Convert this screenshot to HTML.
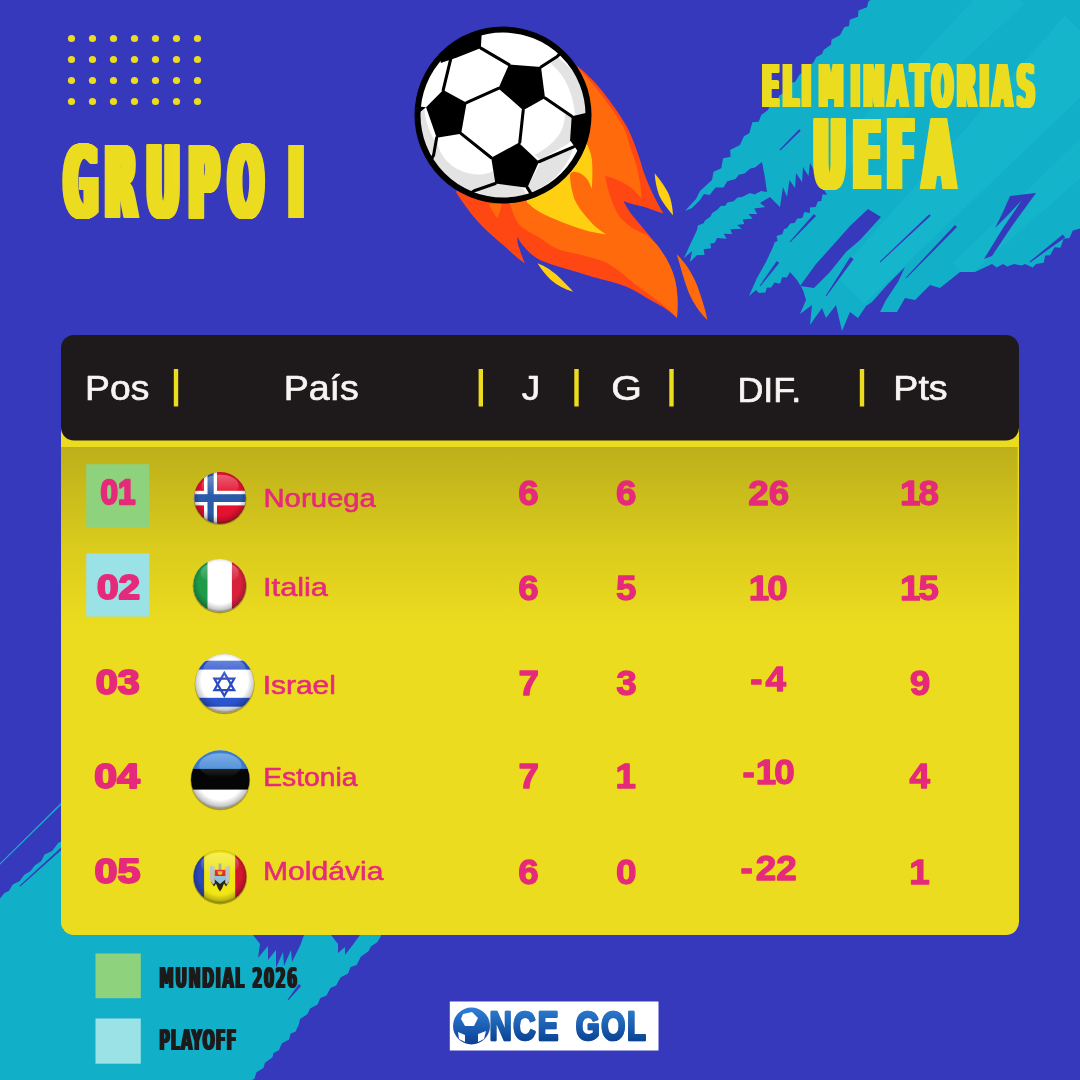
<!DOCTYPE html>
<html lang="es"><head><meta charset="utf-8"><title>Grupo I - Eliminatorias UEFA</title>
<style>html,body{margin:0;padding:0;background:#3739bd;}body{width:1080px;height:1080px;overflow:hidden;}svg{display:block}text{white-space:pre}</style>
</head><body>
<svg width="1080" height="1080" viewBox="0 0 1080 1080">
<defs>
<linearGradient id="cardg" x1="0" y1="0" x2="0" y2="1"><stop offset="0" stop-color="#5f5810" stop-opacity="0.34"/><stop offset="0.55" stop-color="#5f5810" stop-opacity="0.13"/><stop offset="1" stop-color="#5f5810" stop-opacity="0"/></linearGradient>
<linearGradient id="lg" x1="0" y1="0" x2="0" y2="1"><stop offset="0" stop-color="#2f7fd6"/><stop offset="1" stop-color="#0b3f94"/></linearGradient>
<linearGradient id="lg2" gradientUnits="userSpaceOnUse" x1="0" y1="-70" x2="0" y2="0"><stop offset="0" stop-color="#2a78cc"/><stop offset="1" stop-color="#0c4596"/></linearGradient>
<radialGradient id="fshade" cx="0.5" cy="0.45" r="0.55"><stop offset="0.72" stop-color="#000" stop-opacity="0"/><stop offset="0.92" stop-color="#000" stop-opacity="0.22"/><stop offset="1" stop-color="#000" stop-opacity="0.5"/></radialGradient>
<linearGradient id="fgloss" x1="0" y1="0" x2="0" y2="1"><stop offset="0" stop-color="#fff" stop-opacity="0.32"/><stop offset="1" stop-color="#fff" stop-opacity="0"/></linearGradient>
</defs>
<rect width="1080" height="1080" fill="#3739bd"/>
<clipPath id="cyclip"><polygon fill="#12b0c8" points="876.0,-2.0 876.0,-2.0 868.6,0.9 867.0,7.3 858.5,10.6 858.0,16.7 849.8,19.7 849.0,26.0 844.2,27.2 840.0,35.3 831.6,39.6 831.0,44.7 823.8,49.7 822.0,54.0 816.1,57.2 813.0,63.3 806.2,66.3 804.0,72.7 799.8,74.2 795.0,82.0 788.5,83.3 786.0,91.3 779.2,95.8 777.0,100.7 770.1,105.3 768.0,110.0 761.3,115.0 758.7,121.7 752.4,122.2 749.3,133.3 743.9,136.2 740.0,145.0 730.1,150.1 730.7,156.7 723.1,158.3 721.3,168.3 713.6,171.7 712.0,180.0 700.0,191.0 696.0,199.0 685.0,211.0 692.0,208.0 700.0,200.0 704.0,194.0 709.6,195.0 715.6,187.6 723.5,187.4 727.2,181.2 735.5,179.0 738.8,174.8 744.5,173.6 750.4,168.4 755.0,167.5 762.0,162.0 765.0,178.0 767.0,192.0 767.0,192.0 761.1,191.0 754.5,194.5 750.0,193.1 742.0,197.0 737.5,197.6 733.7,201.3 727.4,202.5 725.3,205.7 720.8,205.9 717.0,210.0 712.3,213.1 710.3,216.7 705.0,220.5 703.7,223.3 697.8,225.4 697.0,230.0 690.0,245.0 684.0,258.0 692.0,251.0 690.0,262.0 697.0,255.0 697.0,255.0 704.5,255.1 703.7,249.3 711.2,248.3 710.3,243.7 714.8,242.7 717.0,238.0 726.5,238.7 723.7,233.7 732.2,234.0 730.3,229.3 741.7,228.7 737.0,225.0 744.2,223.9 742.8,219.5 752.6,218.6 748.5,214.0 757.2,214.0 754.2,208.5 765.2,207.1 760.0,203.0 770.0,197.0 780.0,207.0 783.0,187.0 787.0,197.0 789.5,180.0 795.0,188.0 796.0,173.0 802.0,182.0 803.0,167.0 808.5,176.0 810.0,163.0 815.0,172.0 817.0,164.0 822.0,186.0 827.0,195.0 827.0,195.0 822.5,194.2 821.3,201.0 817.8,201.4 815.7,207.0 809.9,207.6 810.0,213.0 804.4,212.1 802.3,218.0 797.0,218.8 794.7,223.0 790.3,223.6 787.0,228.0 784.0,229.2 782.3,234.3 776.5,236.0 777.7,240.7 774.7,242.2 773.0,247.0 766.0,262.0 757.0,278.0 749.0,296.0 756.0,290.0 759.0,293.0 759.0,293.0 765.4,292.5 766.8,287.8 771.1,287.6 774.5,282.5 780.0,283.7 782.2,277.2 786.9,277.5 790.0,272.0 797.0,280.0 803.0,290.0 806.0,300.0 800.0,314.0 812.0,305.0 810.0,325.0 822.0,308.0 826.0,318.0 836.0,305.0 842.0,331.0 850.0,312.0 858.0,318.0 866.0,306.0 872.0,302.0 888.0,284.0 905.0,267.0 898.0,282.0 886.0,300.0 880.0,312.0 897.0,312.0 905.0,298.0 915.0,300.0 930.0,285.0 940.0,288.0 960.0,272.0 975.0,272.0 992.0,264.0 992.0,264.0 996.7,267.4 1003.0,264.0 1007.2,266.4 1014.0,264.0 1021.5,265.6 1025.0,264.0 1032.7,267.5 1036.0,264.0 1043.7,262.8 1045.2,255.6 1050.2,255.3 1054.4,247.2 1060.4,247.8 1063.6,238.8 1069.4,237.9 1072.8,230.4 1081.9,228.1 1082.0,222.0 1082.0,-2.0"/></clipPath>
<polygon fill="#12b0c8" points="876.0,-2.0 876.0,-2.0 868.6,0.9 867.0,7.3 858.5,10.6 858.0,16.7 849.8,19.7 849.0,26.0 844.2,27.2 840.0,35.3 831.6,39.6 831.0,44.7 823.8,49.7 822.0,54.0 816.1,57.2 813.0,63.3 806.2,66.3 804.0,72.7 799.8,74.2 795.0,82.0 788.5,83.3 786.0,91.3 779.2,95.8 777.0,100.7 770.1,105.3 768.0,110.0 761.3,115.0 758.7,121.7 752.4,122.2 749.3,133.3 743.9,136.2 740.0,145.0 730.1,150.1 730.7,156.7 723.1,158.3 721.3,168.3 713.6,171.7 712.0,180.0 700.0,191.0 696.0,199.0 685.0,211.0 692.0,208.0 700.0,200.0 704.0,194.0 709.6,195.0 715.6,187.6 723.5,187.4 727.2,181.2 735.5,179.0 738.8,174.8 744.5,173.6 750.4,168.4 755.0,167.5 762.0,162.0 765.0,178.0 767.0,192.0 767.0,192.0 761.1,191.0 754.5,194.5 750.0,193.1 742.0,197.0 737.5,197.6 733.7,201.3 727.4,202.5 725.3,205.7 720.8,205.9 717.0,210.0 712.3,213.1 710.3,216.7 705.0,220.5 703.7,223.3 697.8,225.4 697.0,230.0 690.0,245.0 684.0,258.0 692.0,251.0 690.0,262.0 697.0,255.0 697.0,255.0 704.5,255.1 703.7,249.3 711.2,248.3 710.3,243.7 714.8,242.7 717.0,238.0 726.5,238.7 723.7,233.7 732.2,234.0 730.3,229.3 741.7,228.7 737.0,225.0 744.2,223.9 742.8,219.5 752.6,218.6 748.5,214.0 757.2,214.0 754.2,208.5 765.2,207.1 760.0,203.0 770.0,197.0 780.0,207.0 783.0,187.0 787.0,197.0 789.5,180.0 795.0,188.0 796.0,173.0 802.0,182.0 803.0,167.0 808.5,176.0 810.0,163.0 815.0,172.0 817.0,164.0 822.0,186.0 827.0,195.0 827.0,195.0 822.5,194.2 821.3,201.0 817.8,201.4 815.7,207.0 809.9,207.6 810.0,213.0 804.4,212.1 802.3,218.0 797.0,218.8 794.7,223.0 790.3,223.6 787.0,228.0 784.0,229.2 782.3,234.3 776.5,236.0 777.7,240.7 774.7,242.2 773.0,247.0 766.0,262.0 757.0,278.0 749.0,296.0 756.0,290.0 759.0,293.0 759.0,293.0 765.4,292.5 766.8,287.8 771.1,287.6 774.5,282.5 780.0,283.7 782.2,277.2 786.9,277.5 790.0,272.0 797.0,280.0 803.0,290.0 806.0,300.0 800.0,314.0 812.0,305.0 810.0,325.0 822.0,308.0 826.0,318.0 836.0,305.0 842.0,331.0 850.0,312.0 858.0,318.0 866.0,306.0 872.0,302.0 888.0,284.0 905.0,267.0 898.0,282.0 886.0,300.0 880.0,312.0 897.0,312.0 905.0,298.0 915.0,300.0 930.0,285.0 940.0,288.0 960.0,272.0 975.0,272.0 992.0,264.0 992.0,264.0 996.7,267.4 1003.0,264.0 1007.2,266.4 1014.0,264.0 1021.5,265.6 1025.0,264.0 1032.7,267.5 1036.0,264.0 1043.7,262.8 1045.2,255.6 1050.2,255.3 1054.4,247.2 1060.4,247.8 1063.6,238.8 1069.4,237.9 1072.8,230.4 1081.9,228.1 1082.0,222.0 1082.0,-2.0"/>
<g clip-path="url(#cyclip)">
<polygon fill="#1cc0d2" opacity="0.35" points="1064.8,15.8 835.6,276.1 864.4,303.9 1115.2,64.2"/>
<polygon fill="#1cc0d2" opacity="0.3" points="995.9,-24.1 792.9,192.9 807.1,207.1 1024.1,4.1"/>
<polygon fill="#1cc0d2" opacity="0.3" points="1079.8,139.0 953.2,262.7 966.8,277.3 1100.2,161.0"/>
</g>
<polygon fill="#3739bd" points="868.0,209.0 881.0,217.0 860.0,240.0 846.0,252.0 830.0,272.0 814.0,288.0 800.0,286.0 816.0,264.0 834.0,244.0 850.0,226.0"/>
<polygon fill="#3739bd" points="1010.0,196.0 1036.0,193.0 1012.0,226.0 992.0,256.0 984.0,259.0 1003.0,228.0 1022.0,200.0 1008.0,215.0 995.0,228.0 1003.0,212.0"/>
<polygon fill="#3739bd" points="954.9,225.0 905.6,277.7 906.4,278.3 957.1,227.0"/>
<polygon fill="#3739bd" points="929.3,214.3 879.7,261.6 880.3,262.4 930.7,215.7"/>
<polygon fill="#3739bd" points="1062.8,234.4 1029.7,261.6 1030.3,262.4 1065.2,237.6"/>
<polygon fill="#3739bd" points="850.3,256.9 825.6,295.7 826.4,296.3 853.7,259.1"/>
<polygon fill="#3739bd" points="776.8,261.1 759.6,285.7 760.4,286.3 779.2,262.9"/>
<polygon fill="#3739bd" points="813.9,214.0 789.6,241.7 790.4,242.3 816.1,216.0"/>
<polygon fill="#3739bd" points="799.3,129.3 779.6,149.6 780.4,150.4 800.7,130.7"/>
<polygon fill="#12b0c8" points="-2.0,901.0 -2.0,901.0 4.4,892.9 8.8,891.0 12.8,884.5 19.7,881.0 24.1,875.1 30.5,871.0 34.8,865.6 41.3,861.0 44.6,854.6 52.2,851.0 58.3,842.7 63.0,841.0 63.0,930.0 381.0,930.0 381.0,936.0 381.0,936.0 377.2,942.3 370.9,946.4 368.7,950.9 360.8,956.8 356.6,964.9 350.6,967.1 348.1,973.4 340.5,977.5 336.1,985.4 330.4,987.9 326.5,995.4 320.2,998.2 317.6,1004.5 310.1,1008.6 307.4,1014.2 300.0,1019.0 299.0,1024.0 299.0,1024.0 295.6,1031.5 290.5,1033.7 289.1,1039.6 282.0,1043.3 278.9,1050.2 273.5,1053.0 272.5,1057.3 265.0,1062.7 263.4,1068.1 256.5,1072.3 254.4,1078.8 248.0,1082.0 -2.0,1082.0"/>
<polygon fill="#12b0c8" points="61.4,802.4 -2.4,865.6 -1.6,866.4 62.6,803.6"/>
<polygon fill="#3739bd" points="61.3,847.3 19.7,885.6 20.3,886.4 62.7,848.7"/>
<polygon fill="#3739bd" points="253.0,935.0 304.0,935.0 300.0,946.0 292.0,962.0 291.0,950.0 284.0,966.0 283.0,952.0 276.0,968.0 276.0,950.0 268.0,960.0 268.0,946.0 258.0,958.0 260.0,944.0"/>
<polygon fill="#3739bd" points="331.0,935.0 360.0,935.0 352.0,946.0 345.0,955.0 345.0,947.0 338.0,953.0 338.0,944.0"/>
<polygon fill="#3739bd" points="298.8,984.1 287.6,999.7 288.4,1000.3 301.2,985.9"/>
<g fill="#ecdc1f"><circle cx="71.5" cy="38.5" r="3.6"/><circle cx="92.5" cy="38.5" r="3.6"/><circle cx="113.5" cy="38.5" r="3.6"/><circle cx="134.5" cy="38.5" r="3.6"/><circle cx="155.5" cy="38.5" r="3.6"/><circle cx="176.5" cy="38.5" r="3.6"/><circle cx="197.5" cy="38.5" r="3.6"/><circle cx="71.5" cy="59.5" r="3.6"/><circle cx="92.5" cy="59.5" r="3.6"/><circle cx="113.5" cy="59.5" r="3.6"/><circle cx="134.5" cy="59.5" r="3.6"/><circle cx="155.5" cy="59.5" r="3.6"/><circle cx="176.5" cy="59.5" r="3.6"/><circle cx="197.5" cy="59.5" r="3.6"/><circle cx="71.5" cy="80.5" r="3.6"/><circle cx="92.5" cy="80.5" r="3.6"/><circle cx="113.5" cy="80.5" r="3.6"/><circle cx="134.5" cy="80.5" r="3.6"/><circle cx="155.5" cy="80.5" r="3.6"/><circle cx="176.5" cy="80.5" r="3.6"/><circle cx="197.5" cy="80.5" r="3.6"/><circle cx="71.5" cy="101.5" r="3.6"/><circle cx="92.5" cy="101.5" r="3.6"/><circle cx="113.5" cy="101.5" r="3.6"/><circle cx="134.5" cy="101.5" r="3.6"/><circle cx="155.5" cy="101.5" r="3.6"/><circle cx="176.5" cy="101.5" r="3.6"/><circle cx="197.5" cy="101.5" r="3.6"/></g>
<path fill="#ff4713" d="M560,50 L576,65 C584,71 596,83 603,92 C610,101 621,116 627,127 C632,136 640,158 643,170
 C647,182 656,202 663.5,213.5 C655,211 647,207.5 643,206.5 C636,205 628,203 623.5,201 C626,206 629,211 632,215 C636,220 650,236 657,245
 C662,251 672,266 675,280 C678,292 678,306 677,318 C671,312 662,306 653,301.5 C645,297 636,291 627,287 C615,282 604,280 593,277
 C583,274 574,271 565,268.5 C556,266 547,263 540,260 C534,257 530,253 527,250 C523,246 519,241 517.5,236.5 C517,241 518,246 520,250
 C521,254 523,259 525,263.5 C517,258 510,251 503,245 C496,239 489,233 483,227 C477,221 471,214 467,208 C463,203 459,197 456,192 L480,150 Z"/>
<path fill="#ff6a0c" d="M565,55 L578.3,68.3 C590,80 602,95 610,106.7 C616,115 620,121 623.3,126.7 C626,132 628,139 630,146.7
 C632,153 635,160 636.7,166.7 C638,172 639,177 640,183 C641,188 641,193 641.7,198.3 C638,195 635,191 631.7,188.3 C624,182 613,178 605,175.8
 C607,188 612,204 618.3,215 C625,224 636,231 646.7,235 C650,238 654,242 657,245 C662,251 672,266 675,280 C678,292 678,306 677,318
 C673,313 668,309 663,305 C657,300 650,295 643,290 C632,283 620,270 607,263 C596,258 584,256 573,253 C568,252 564,251 560,250
 C552,247 546,242 540,238 C532,233 522,229 518,223 C514,217 512,210 510,204 L520,150 Z"/>
<path fill="#ff6a0c" d="M489,204 L502,204 C501,209 499,214 497.5,218.5 C494,214 491,209 489,204 Z"/>
<path fill="#ffd012" d="M560,120 L587.8,145.6 C590,151 592,157 592.2,163.3 C592.5,172 592.5,181 591.7,188.9 C590.5,186 589.5,183 587.8,180
 C586,177.5 584.5,176 582.2,174.4 C579,172.5 576,171.5 573.3,171.7 C572,172 571,173 570,174.4 C570,178 570.3,182 571,185.6
 C571.8,190 573,195 574.4,198.9 C577,204.5 580.5,210 584.4,214.4 C588,218.5 591.5,223 595.6,226.7 C599,229.5 602.5,232 606.1,234.4
 C598.5,233.5 591,232 584.4,230 C577,227.8 569,225 562.2,222.2 C554.5,219 547,216 540,212.2 C535,209.5 531,206 527,202.5 L520,150 Z"/>
<path fill="#ffd012" d="M654.7,173.3 C660,180 668,190 670.5,199 C672,205 672.8,210 673,215.3 C668,209 662,202 659,195 C656.5,188 655,180 654.7,173.3 Z"/>
<path fill="#ffd012" d="M537.5,263.3 C545,266 554,272 560,278 C565,283 569.5,287.5 573.3,291.7 C565,289.5 557,285.5 551,280 C545.5,275 541,269 537.5,263.3 Z"/>
<path fill="#ff6a0c" d="M676.7,254.2 C685,262 692,273 697,285 C701,296 705,308 707.5,320 C700,313 693,303 688.5,292 C684,280 680.5,267 676.7,254.2 Z"/>
<clipPath id="ballclip"><circle cx="503" cy="115" r="85.5"/></clipPath>
<circle cx="503" cy="115" r="85.5" fill="#fff"/>
<g clip-path="url(#ballclip)"><g transform="translate(400,10) scale(0.2037)">
<g fill="#dcdcdc">
<path d="M700,290 L770,235 Q900,330 925,510 L845,520 Q820,380 700,290 Z" opacity="0"/>
</g>

<g fill="#e3e3e3">
<!-- right panel shading -->
<path d="M775,235 C870,300 915,400 925,505 L860,515 C850,420 820,330 740,262 Z"/>
<!-- center-right panel shading -->
<path d="M845,530 C850,580 845,630 835,650 L690,735 L660,712 C760,660 810,600 810,505 Z"/>
<!-- bottom-left panel shading -->
<path d="M180,630 C188,715 255,800 380,808 C410,808 440,800 458,790 L468,852 L365,887 L330,915 L200,905 L120,770 L165,712 Z"/>
<!-- bottom-right panel shading -->
<path d="M850,680 C820,780 740,860 640,895 L625,870 L690,750 Z"/>
<!-- bottom small panel -->
<path d="M370,890 C450,930 540,935 620,905 L600,870 L470,850 Z"/>
<!-- left small panel shading -->
<path d="M100,490 C95,580 115,650 160,715 L170,640 C140,590 125,540 120,490 Z"/>
</g>
<g fill="#000">
<path d="M535,268 L692,280 L712,432 L605,492 L483,385 Z"/>
<path d="M212,393 L327,455 L300,607 L180,627 L128,478 Z"/>
<path d="M583,652 L682,745 L625,872 L468,852 L448,725 Z"/>
<path d="M843,522 L960,495 L960,700 L872,692 L835,640 Z"/>
<path d="M283,232 L397,187 L402,100 L200,100 L200,260 Z"/>
<path d="M60,470 L128,478 L100,500 L60,500 Z"/>
</g>
<g fill="none" stroke="#000" stroke-width="15" stroke-linecap="round" stroke-linejoin="round">
<path d="M535,268 L397,187"/>
<path d="M692,280 L772,228 L800,200"/>
<path d="M712,432 L843,522"/>
<path d="M605,492 L588,650"/>
<path d="M483,385 L327,455"/>
<path d="M300,607 L448,725"/>
<path d="M180,627 L165,712 L140,760"/>
<path d="M212,393 L255,215"/>
<path d="M682,745 L852,672"/>
<path d="M625,872 L655,920"/>
<path d="M468,852 L365,887 L330,910"/>
</g>

</g></g>
<circle cx="503" cy="115" r="85.5" fill="none" stroke="#000" stroke-width="6"/>
<g style="filter:drop-shadow(1px 0 0 #ecdc1f) drop-shadow(1px 0 0 #ecdc1f) drop-shadow(1px 0 0 #ecdc1f) drop-shadow(1px 0 0 #ecdc1f) drop-shadow(1px 0 0 #ecdc1f) drop-shadow(1px 0 0 #ecdc1f) drop-shadow(1px 0 0 #ecdc1f) drop-shadow(1px 0 0 #ecdc1f)"><text transform="translate(0,217.70) scale(0.4531,0.9959)" x="133.2 223.1 314.6 407.8 495.5 545.5 628.1" font-family="DejaVu Sans Condensed, sans-serif" font-weight="bold" font-size="100" fill="#ecdc1f">GRUPO I</text></g>
<g style="filter:drop-shadow(1px 0 0 #ecdc1f) drop-shadow(1px 0 0 #ecdc1f) drop-shadow(1px 0 0 #ecdc1f) drop-shadow(1px 0 0 #ecdc1f) drop-shadow(1px 0 0 #ecdc1f)"><text transform="translate(0,106.60) scale(0.2746,0.5781)" x="2767.1 2841.2 2910.9 2972.1 3089.2 3135.1 3224.9 3308.8 3385.2 3476.1 3559.1 3606.2 3694.6" font-family="DejaVu Sans Condensed, sans-serif" font-weight="bold" font-size="100" fill="#ecdc1f">ELIMINATORIAS</text></g>
<g style="filter:drop-shadow(1px 0 0 #ecdc1f) drop-shadow(1px 0 0 #ecdc1f) drop-shadow(1px 0 0 #ecdc1f) drop-shadow(1px 0 0 #ecdc1f) drop-shadow(1px 0 0 #ecdc1f) drop-shadow(1px 0 0 #ecdc1f) drop-shadow(1px 0 0 #ecdc1f) drop-shadow(1px 0 0 #ecdc1f)"><text transform="translate(0,188.50) scale(0.4394,0.9658)" x="1842.5 1932.9 2010.2 2092.4" font-family="DejaVu Sans Condensed, sans-serif" font-weight="bold" font-size="100" fill="#ecdc1f">UEFA</text></g>
<rect x="61" y="380" width="958" height="555" rx="13" fill="#ecdc1f"/>
<rect x="61" y="447" width="956.6" height="180" fill="url(#cardg)"/>
<rect x="61" y="335" width="958" height="105.5" rx="13" fill="#1e1a1b"/>
<rect x="173.8" y="369" width="4.4" height="37.5" fill="#ecdc1f"/>
<rect x="478.6" y="369" width="4.4" height="37.5" fill="#ecdc1f"/>
<rect x="574.3" y="369" width="4.4" height="37.5" fill="#ecdc1f"/>
<rect x="669.3" y="369" width="4.4" height="37.5" fill="#ecdc1f"/>
<rect x="859.8" y="369" width="4.4" height="37.5" fill="#ecdc1f"/>
<text transform="translate(85.08,399.65) scale(0.3726,0.3535)" font-family="Liberation Sans, sans-serif" font-weight="normal" font-style="normal" font-size="100" fill="#f7f5f3" stroke="#f7f5f3" stroke-width="0.7" stroke-linejoin="round" vector-effect="non-scaling-stroke">Pos</text>
<text transform="translate(283.65,399.65) scale(0.3756,0.3476)" font-family="Liberation Sans, sans-serif" font-weight="normal" font-style="normal" font-size="100" fill="#f7f5f3" stroke="#f7f5f3" stroke-width="0.7" stroke-linejoin="round" vector-effect="non-scaling-stroke">País</text>
<text transform="translate(521.80,399.65) scale(0.3683,0.3476)" font-family="Liberation Sans, sans-serif" font-weight="normal" font-style="normal" font-size="100" fill="#f7f5f3" stroke="#f7f5f3" stroke-width="0.7" stroke-linejoin="round" vector-effect="non-scaling-stroke">J</text>
<text transform="translate(611.18,399.95) scale(0.3939,0.3513)" font-family="Liberation Sans, sans-serif" font-weight="normal" font-style="normal" font-size="100" fill="#f7f5f3" stroke="#f7f5f3" stroke-width="0.7" stroke-linejoin="round" vector-effect="non-scaling-stroke">G</text>
<text transform="translate(737.39,401.85) scale(0.3589,0.3535)" font-family="Liberation Sans, sans-serif" font-weight="normal" font-style="normal" font-size="100" fill="#f7f5f3" stroke="#f7f5f3" stroke-width="0.7" stroke-linejoin="round" vector-effect="non-scaling-stroke">DIF.</text>
<text transform="translate(893.35,399.65) scale(0.3759,0.3476)" font-family="Liberation Sans, sans-serif" font-weight="normal" font-style="normal" font-size="100" fill="#f7f5f3" stroke="#f7f5f3" stroke-width="0.7" stroke-linejoin="round" vector-effect="non-scaling-stroke">Pts</text>
<rect x="86.2" y="464.2" width="63.1" height="63.1" fill="#8fd27d"/>
<rect x="86.2" y="553.5" width="63.1" height="63.1" fill="#9be2e6"/>
<text transform="translate(100.55,504.30) scale(0.3137,0.3505)" font-family="Liberation Sans, sans-serif" font-weight="bold" font-style="normal" font-size="100" fill="#e62a7b" stroke="#e62a7b" stroke-width="2.2" stroke-linejoin="round" vector-effect="non-scaling-stroke">01</text>
<text transform="translate(263.49,507.00) scale(0.2926,0.2560)" font-family="Liberation Sans, sans-serif" font-weight="normal" font-style="normal" font-size="100" fill="#e62a7b" stroke="#e62a7b" stroke-width="0.6" stroke-linejoin="round" vector-effect="non-scaling-stroke">Noruega</text>
<text transform="translate(518.34,504.75) scale(0.3680,0.3590)" font-family="Liberation Sans, sans-serif" font-weight="bold" font-size="100" fill="#e62a7b" stroke="#e62a7b" stroke-width="1.3" stroke-linejoin="round" vector-effect="non-scaling-stroke">6</text>
<text transform="translate(616.04,504.75) scale(0.3680,0.3590)" font-family="Liberation Sans, sans-serif" font-weight="bold" font-size="100" fill="#e62a7b" stroke="#e62a7b" stroke-width="1.3" stroke-linejoin="round" vector-effect="non-scaling-stroke">6</text>
<text transform="translate(748.18,504.75) scale(0.3680,0.3590)" font-family="Liberation Sans, sans-serif" font-weight="bold" font-size="100" fill="#e62a7b" stroke="#e62a7b" stroke-width="1.3" stroke-linejoin="round" vector-effect="non-scaling-stroke">26</text>
<text transform="translate(899.98,504.75) scale(0.3680,0.3590)" dx="0.0 -5.4" font-family="Liberation Sans, sans-serif" font-weight="bold" font-size="100" fill="#e62a7b" stroke="#e62a7b" stroke-width="1.3" stroke-linejoin="round" vector-effect="non-scaling-stroke">18</text>
<text transform="translate(97.05,599.20) scale(0.3874,0.3505)" font-family="Liberation Sans, sans-serif" font-weight="bold" font-style="normal" font-size="100" fill="#e62a7b" stroke="#e62a7b" stroke-width="2.2" stroke-linejoin="round" vector-effect="non-scaling-stroke">02</text>
<text transform="translate(263.06,596.00) scale(0.3074,0.2560)" font-family="Liberation Sans, sans-serif" font-weight="normal" font-style="normal" font-size="100" fill="#e62a7b" stroke="#e62a7b" stroke-width="0.6" stroke-linejoin="round" vector-effect="non-scaling-stroke">Italia</text>
<text transform="translate(518.34,599.65) scale(0.3680,0.3590)" font-family="Liberation Sans, sans-serif" font-weight="bold" font-size="100" fill="#e62a7b" stroke="#e62a7b" stroke-width="1.3" stroke-linejoin="round" vector-effect="non-scaling-stroke">6</text>
<text transform="translate(616.04,599.65) scale(0.3680,0.3590)" font-family="Liberation Sans, sans-serif" font-weight="bold" font-size="100" fill="#e62a7b" stroke="#e62a7b" stroke-width="1.3" stroke-linejoin="round" vector-effect="non-scaling-stroke">5</text>
<text transform="translate(748.76,599.65) scale(0.3680,0.3590)" dx="0.0 -5.4" font-family="Liberation Sans, sans-serif" font-weight="bold" font-size="100" fill="#e62a7b" stroke="#e62a7b" stroke-width="1.3" stroke-linejoin="round" vector-effect="non-scaling-stroke">10</text>
<text transform="translate(899.93,599.65) scale(0.3680,0.3590)" dx="0.0 -5.4" font-family="Liberation Sans, sans-serif" font-weight="bold" font-size="100" fill="#e62a7b" stroke="#e62a7b" stroke-width="1.3" stroke-linejoin="round" vector-effect="non-scaling-stroke">15</text>
<text transform="translate(95.82,694.30) scale(0.3942,0.3505)" font-family="Liberation Sans, sans-serif" font-weight="bold" font-style="normal" font-size="100" fill="#e62a7b" stroke="#e62a7b" stroke-width="2.2" stroke-linejoin="round" vector-effect="non-scaling-stroke">03</text>
<text transform="translate(262.73,694.30) scale(0.2993,0.2560)" font-family="Liberation Sans, sans-serif" font-weight="normal" font-style="normal" font-size="100" fill="#e62a7b" stroke="#e62a7b" stroke-width="0.6" stroke-linejoin="round" vector-effect="non-scaling-stroke">Israel</text>
<text transform="translate(518.39,694.75) scale(0.3680,0.3590)" font-family="Liberation Sans, sans-serif" font-weight="bold" font-size="100" fill="#e62a7b" stroke="#e62a7b" stroke-width="1.3" stroke-linejoin="round" vector-effect="non-scaling-stroke">7</text>
<text transform="translate(616.32,694.75) scale(0.3680,0.3590)" font-family="Liberation Sans, sans-serif" font-weight="bold" font-size="100" fill="#e62a7b" stroke="#e62a7b" stroke-width="1.3" stroke-linejoin="round" vector-effect="non-scaling-stroke">3</text>
<text transform="translate(750.13,691.15) scale(0.3680,0.3590)" dx="0.0 8.2" font-family="Liberation Sans, sans-serif" font-weight="bold" font-size="100" fill="#e62a7b" stroke="#e62a7b" stroke-width="1.3" stroke-linejoin="round" vector-effect="non-scaling-stroke">-4</text>
<text transform="translate(909.79,694.75) scale(0.3680,0.3590)" font-family="Liberation Sans, sans-serif" font-weight="bold" font-size="100" fill="#e62a7b" stroke="#e62a7b" stroke-width="1.3" stroke-linejoin="round" vector-effect="non-scaling-stroke">9</text>
<text transform="translate(94.26,787.80) scale(0.4103,0.3505)" font-family="Liberation Sans, sans-serif" font-weight="bold" font-style="normal" font-size="100" fill="#e62a7b" stroke="#e62a7b" stroke-width="2.2" stroke-linejoin="round" vector-effect="non-scaling-stroke">04</text>
<text transform="translate(263.16,786.20) scale(0.2832,0.2560)" font-family="Liberation Sans, sans-serif" font-weight="normal" font-style="normal" font-size="100" fill="#e62a7b" stroke="#e62a7b" stroke-width="0.6" stroke-linejoin="round" vector-effect="non-scaling-stroke">Estonia</text>
<text transform="translate(518.39,788.25) scale(0.3680,0.3590)" font-family="Liberation Sans, sans-serif" font-weight="bold" font-size="100" fill="#e62a7b" stroke="#e62a7b" stroke-width="1.3" stroke-linejoin="round" vector-effect="non-scaling-stroke">7</text>
<text transform="translate(615.44,788.25) scale(0.3680,0.3590)" font-family="Liberation Sans, sans-serif" font-weight="bold" font-size="100" fill="#e62a7b" stroke="#e62a7b" stroke-width="1.3" stroke-linejoin="round" vector-effect="non-scaling-stroke">1</text>
<text transform="translate(742.51,783.75) scale(0.3680,0.3590)" dx="0.0 2.7 -5.4" font-family="Liberation Sans, sans-serif" font-weight="bold" font-size="100" fill="#e62a7b" stroke="#e62a7b" stroke-width="1.3" stroke-linejoin="round" vector-effect="non-scaling-stroke">-10</text>
<text transform="translate(909.60,788.25) scale(0.3680,0.3590)" font-family="Liberation Sans, sans-serif" font-weight="bold" font-size="100" fill="#e62a7b" stroke="#e62a7b" stroke-width="1.3" stroke-linejoin="round" vector-effect="non-scaling-stroke">4</text>
<text transform="translate(94.45,883.10) scale(0.4125,0.3505)" font-family="Liberation Sans, sans-serif" font-weight="bold" font-style="normal" font-size="100" fill="#e62a7b" stroke="#e62a7b" stroke-width="2.2" stroke-linejoin="round" vector-effect="non-scaling-stroke">05</text>
<text transform="translate(263.02,879.80) scale(0.3010,0.2560)" font-family="Liberation Sans, sans-serif" font-weight="normal" font-style="normal" font-size="100" fill="#e62a7b" stroke="#e62a7b" stroke-width="0.6" stroke-linejoin="round" vector-effect="non-scaling-stroke">Moldávia</text>
<text transform="translate(518.34,883.55) scale(0.3680,0.3590)" font-family="Liberation Sans, sans-serif" font-weight="bold" font-size="100" fill="#e62a7b" stroke="#e62a7b" stroke-width="1.3" stroke-linejoin="round" vector-effect="non-scaling-stroke">6</text>
<text transform="translate(616.09,883.55) scale(0.3680,0.3590)" font-family="Liberation Sans, sans-serif" font-weight="bold" font-size="100" fill="#e62a7b" stroke="#e62a7b" stroke-width="1.3" stroke-linejoin="round" vector-effect="non-scaling-stroke">0</text>
<text transform="translate(740.51,879.85) scale(0.3680,0.3590)" dx="0.0 8.2 0.0" font-family="Liberation Sans, sans-serif" font-weight="bold" font-size="100" fill="#e62a7b" stroke="#e62a7b" stroke-width="1.3" stroke-linejoin="round" vector-effect="non-scaling-stroke">-22</text>
<text transform="translate(909.14,883.55) scale(0.3680,0.3590)" font-family="Liberation Sans, sans-serif" font-weight="bold" font-size="100" fill="#e62a7b" stroke="#e62a7b" stroke-width="1.3" stroke-linejoin="round" vector-effect="non-scaling-stroke">1</text>
<clipPath id="fc1"><circle cx="220.1" cy="497.9" r="25.8"/></clipPath><circle cx="220.1" cy="498.7" r="26.400000000000002" fill="#5a4a10" opacity="0.45"/><g clip-path="url(#fc1)"><g transform="translate(220.1,497.9)"><rect x="-30" y="-30" width="60" height="60" fill="#e3122f"/><rect x="-16.1" y="-30" width="13" height="60" fill="#fff"/><rect x="-30" y="-7.1" width="60" height="14.6" fill="#fff"/><rect x="-12.6" y="-30" width="6.2" height="60" fill="#2a5aa8"/><rect x="-30" y="-3.7" width="60" height="7.8" fill="#2a5aa8"/></g></g><circle cx="220.1" cy="497.9" r="25.8" fill="url(#fshade)"/><ellipse cx="220.1" cy="485.51599999999996" rx="18.576" ry="10.836" fill="url(#fgloss)"/>
<clipPath id="fc2"><circle cx="219.7" cy="585.5" r="26.5"/></clipPath><circle cx="219.7" cy="586.3" r="27.1" fill="#5a4a10" opacity="0.45"/><g clip-path="url(#fc2)"><g transform="translate(219.7,585.5)"><rect x="-30" y="-30" width="60" height="60" fill="#fff"/><rect x="-30" y="-30" width="17.8" height="60" fill="#1f9a48"/><rect x="12.2" y="-30" width="18" height="60" fill="#d8213a"/></g></g><circle cx="219.7" cy="585.5" r="26.5" fill="url(#fshade)"/><ellipse cx="219.7" cy="572.78" rx="19.08" ry="11.129999999999999" fill="url(#fgloss)"/>
<clipPath id="fc3"><circle cx="224.6" cy="683.4" r="29.4"/></clipPath><circle cx="224.6" cy="684.1999999999999" r="30.0" fill="#5a4a10" opacity="0.45"/><g clip-path="url(#fc3)"><g transform="translate(224.6,683.4)"><rect x="-30" y="-30" width="60" height="60" fill="#fff"/><rect x="-30" y="-22.7" width="60" height="8.9" fill="#2b55cf"/><rect x="-30" y="14.4" width="60" height="8.9" fill="#2b55cf"/><g transform="translate(-0.3,1)"><polygon points="0.00,-11.50 9.96,5.75 -9.96,5.75" fill="none" stroke="#2b4cc0" stroke-width="2.2"/><polygon points="0.00,11.50 -9.96,-5.75 9.96,-5.75" fill="none" stroke="#2b4cc0" stroke-width="2.2"/></g></g></g><circle cx="224.6" cy="683.4" r="29.4" fill="url(#fshade)"/><ellipse cx="224.6" cy="669.288" rx="21.168" ry="12.347999999999999" fill="url(#fgloss)"/>
<clipPath id="fc4"><circle cx="220.3" cy="779.5" r="29.3"/></clipPath><circle cx="220.3" cy="780.3" r="29.900000000000002" fill="#5a4a10" opacity="0.45"/><g clip-path="url(#fc4)"><g transform="translate(220.3,779.5)"><rect x="-30" y="-30" width="60" height="60" fill="#fff"/><rect x="-30" y="-30" width="60" height="20" fill="#3f86d8"/><rect x="-30" y="-10.6" width="60" height="20.7" fill="#050505"/></g></g><circle cx="220.3" cy="779.5" r="29.3" fill="url(#fshade)"/><ellipse cx="220.3" cy="765.436" rx="21.096" ry="12.306" fill="url(#fgloss)"/>
<clipPath id="fc5"><circle cx="220" cy="876.5" r="26.5"/></clipPath><circle cx="220" cy="877.3" r="27.1" fill="#5a4a10" opacity="0.45"/><g clip-path="url(#fc5)"><g transform="translate(220,876.5)"><rect x="-30" y="-30" width="60" height="60" fill="#f0e614"/><rect x="-30" y="-30" width="14.1" height="60" fill="#2a48b8"/><rect x="15.2" y="-30" width="15" height="60" fill="#d3172e"/><g transform="translate(0,-0.5)"><path d="M-9,6 L-6,10.5 L-4,7.5 L-2,12.5 L0,15.5 L2,12.5 L4,7.5 L6,10.5 L9,6 L7,2 L-7,2 Z" fill="#2b2414"/><path d="M-10,-9.5 L-8.5,-11 L-7,-9.5 L-5.2,-9.5 L-5.2,7 L-7,8.5 L-10,4 Z" fill="#b7c3c0"/><path d="M10,-9.5 L8.5,-11 L7,-9.5 L5.2,-9.5 L5.2,7 L7,8.5 L10,4 Z" fill="#b7c3c0"/><rect x="-1.4" y="-12.5" width="2.8" height="8" fill="#9aa890"/><rect x="-5.2" y="-6.2" width="10.6" height="6.2" fill="#e3262a"/><path d="M-5.2,0 L5.4,0 L5.4,3.5 L0,8 L-5.2,3.5 Z" fill="#8fc4dc"/><path d="M-2.2,-4.8 L2.4,-4.8 L2.4,-2 L0,-0.8 L-2.2,-2 Z" fill="#f0b818"/></g></g></g><circle cx="220" cy="876.5" r="26.5" fill="url(#fshade)"/><ellipse cx="220" cy="863.78" rx="19.08" ry="11.129999999999999" fill="url(#fgloss)"/>
<rect x="95.5" y="953.5" width="45.3" height="44.7" fill="#8fd27d"/>
<rect x="95.5" y="1018.5" width="45.3" height="45.2" fill="#9be2e6"/>
<g style="filter:drop-shadow(1px 0 0 #1d1a1b) drop-shadow(1px 0 0 #1d1a1b)"><text transform="translate(158.26,987.90) scale(0.1619,0.2890)" font-family="DejaVu Sans Condensed, sans-serif" font-weight="bold" font-size="100" letter-spacing="8.86" fill="#1d1a1b">MUNDIAL 2026</text></g>
<g style="filter:drop-shadow(1px 0 0 #1d1a1b) drop-shadow(1px 0 0 #1d1a1b)"><text transform="translate(158.27,1049.80) scale(0.1611,0.2877)" font-family="DejaVu Sans Condensed, sans-serif" font-weight="bold" font-size="100" letter-spacing="5.76" fill="#1d1a1b">PLAYOFF</text></g>
<rect x="449.8" y="1001.5" width="208.7" height="49" fill="#fff"/>
<text transform="translate(0,1039.90) scale(0.3100,0.4145)" x="1488.6 1579.4 1656.0 1734.5 1794.5 1857.3 1939.2 2022.9" font-family="Liberation Sans, sans-serif" font-weight="bold" font-size="100" fill="url(#lg2)" stroke="url(#lg2)" stroke-width="2.4" stroke-linejoin="round" vector-effect="non-scaling-stroke" style="filter:drop-shadow(0.6px 0.8px 0.6px rgba(20,40,90,0.45))">ONCE GOL</text>
<circle cx="471.5" cy="1026" r="18.5" fill="url(#lg)"/>
<g fill="#fff"><path d="M463,1014 l9,-2 l6,6 l-4,8 l-9,0 l-4,-7 Z"/><path d="M458,1032 l7,3 l0,7 l-6,-3 Z"/><path d="M478,1034 l8,-3 l-2,8 l-6,3 Z"/></g>
</svg>
</body></html>
